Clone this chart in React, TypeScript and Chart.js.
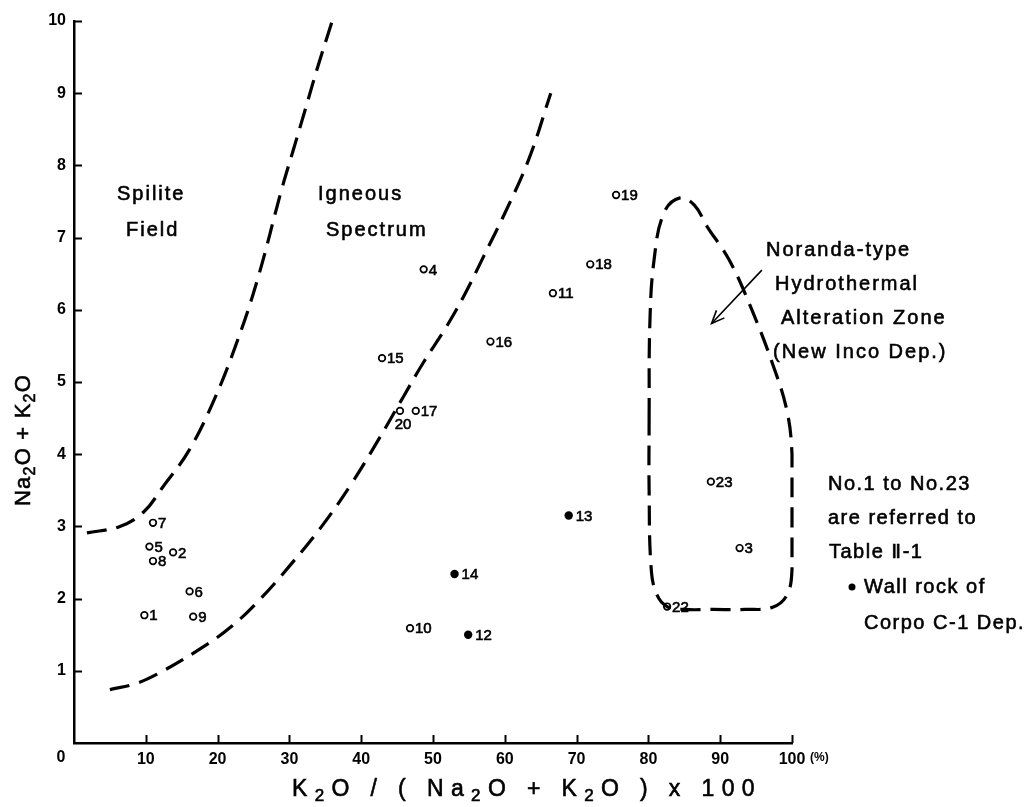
import React, { useEffect, useRef } from 'react';
import { Chart, registerables } from 'chart.js';

Chart.register(...registerables);

const FONT = '"Liberation Sans", "DejaVu Sans", Arial, sans-serif';

// Open-circle samples (No.1 - No.23)
const sampleLabels = ['1', '2', '3', '4', '5', '6', '7', '8', '9', '10', '11', '15', '16', '17', '18', '19', '20', '22', '23'];
const sampleX = [9.8, 13.8, 92.7, 48.7, 10.5, 16.1, 11.0, 11.0, 16.6, 46.8, 66.7, 42.9, 58.0, 47.6, 71.9, 75.5, 45.4, 82.6, 88.7];
const sampleY = [1.77, 2.64, 2.7, 6.56, 2.72, 2.1, 3.05, 2.52, 1.75, 1.59, 6.23, 5.33, 5.56, 4.6, 6.63, 7.59, 4.6, 1.89, 3.62];

// Wall rock of Corpo C-1 Dep. (filled)
const wallLabels = ['12', '13', '14'];
const wallX = [54.9, 68.9, 53.0];
const wallY = [1.5, 3.15, 2.34];

// Spilite field boundary
const spiliteX = [1.8, 6.4, 9.7, 12.4, 16.0, 19.5, 22.5, 25.5, 28.9, 30.5, 32.2, 33.9, 35.9];
const spiliteY = [2.91, 3.0, 3.2, 3.55, 4.05, 4.75, 5.5, 6.4, 7.66, 8.2, 8.77, 9.35, 9.98];

// Igneous spectrum boundary
const igneousX = [5.0, 8.5, 11.5, 17.5, 22.0, 26.0, 30.0, 34.5, 38.7, 42.1, 45.9, 48.6, 51.9, 54.5, 57.0, 60.3, 63.4, 66.4];
const igneousY = [0.74, 0.82, 0.95, 1.3, 1.62, 2.0, 2.45, 3.0, 3.6, 4.15, 4.8, 5.26, 5.77, 6.23, 6.73, 7.4, 8.1, 9.0];

// Noranda-type hydrothermal alteration zone (closed loop)
const norandaX = [80.1, 80.2, 80.8, 82.2, 84.4, 86.4, 88.2, 91.2, 94.2, 97.3, 99.3, 100.0, 100.0, 100.0, 99.3, 97.3, 93.5, 89.0, 85.0, 82.6, 81.2, 80.4, 80.1, 80.1];
const norandaY = [4.5, 5.8, 6.7, 7.35, 7.55, 7.45, 7.15, 6.7, 6.05, 5.25, 4.6, 4.0, 3.2, 2.4, 2.05, 1.88, 1.85, 1.85, 1.85, 1.89, 2.05, 2.4, 3.5, 4.5];

// Arrow pointing into the zone
const arrowX = [95.8, 88.8];
const arrowY = [6.55, 5.81];

const xTickValues = [0, 10, 20, 30, 40, 50, 60, 70, 80, 90, 100];
const xTickLabels = ['0', '10', '20', '30', '40', '50', '60', '70', '80', '90', '100'];
const yTickValues = [0, 1, 2, 3, 4, 5, 6, 7, 8, 9, 10];
const yTickLabels = ['', '1', '2', '3', '4', '5', '6', '7', '8', '9', '10'];

const xUnit = '(%)';
const xTitleParts: [string, boolean][] = [['K', false], ['2', true], ['O / ( Na', false], ['2', true], ['O + K', false], ['2', true], ['O ) x 100', false]];
const yTitleParts: [string, boolean][] = [['Na', false], ['2', true], ['O + K', false], ['2', true], ['O', false]];

const zip = (xs: number[], ys: number[]) => xs.map((x, i) => ({ x, y: ys[i] }));

function setSpacing(ctx: any, s: number) {
  try { ctx.letterSpacing = s + 'px'; } catch (e) { /* ignore */ }
}

function heavyText(ctx: CanvasRenderingContext2D, s: string, x: number, y: number) {
  ctx.fillText(s, x, y);
  ctx.lineWidth = 0.6;
  ctx.strokeText(s, x, y);
}

function richWidth(ctx: CanvasRenderingContext2D, parts: [string, boolean][], size: number, spacing: number) {
  let w = 0;
  for (const [t, sub] of parts) {
    ctx.font = `${sub ? Math.round(size * 0.72) : size}px ${FONT}`;
    setSpacing(ctx, spacing);
    w += ctx.measureText(t).width;
  }
  return w;
}

function drawRich(ctx: CanvasRenderingContext2D, parts: [string, boolean][], cx: number, cy: number, size: number, targetWidth: number) {
  const natural = richWidth(ctx, parts, size, 0);
  const count = parts.reduce((n, p) => n + p[0].length, 0);
  const spacing = Math.max(0, (targetWidth - natural) / count);
  const w = richWidth(ctx, parts, size, spacing);
  let x = cx - w / 2;
  ctx.textAlign = 'left';
  ctx.textBaseline = 'middle';
  for (const [t, sub] of parts) {
    ctx.font = `${sub ? Math.round(size * 0.72) : size}px ${FONT}`;
    setSpacing(ctx, spacing);
    heavyText(ctx, t, x, sub ? cy + size * 0.28 : cy);
    x += ctx.measureText(t).width;
  }
  setSpacing(ctx, 0);
}

function text(ctx: CanvasRenderingContext2D, s: string, x: number, y: number, size = 20, spacing = 2) {
  ctx.font = `${size}px ${FONT}`;
  setSpacing(ctx, spacing);
  ctx.textAlign = 'left';
  ctx.textBaseline = 'middle';
  heavyText(ctx, s, x, y);
  setSpacing(ctx, 0);
}

const annotatePlugin = {
  id: 'annotate',
  afterDraw(chart: any) {
    const ctx: CanvasRenderingContext2D = chart.ctx;
    const xs = chart.scales.x;
    const ys = chart.scales.y;
    const ca = chart.chartArea;
    ctx.save();
    ctx.strokeStyle = '#000';
    ctx.fillStyle = '#000';

    // inward tick marks
    ctx.lineWidth = 2;
    ctx.beginPath();
    yTickValues.forEach((v) => {
      if (v === 0) return;
      const py = Math.round(ys.getPixelForValue(v)) + 0.5;
      ctx.moveTo(ca.left, py);
      ctx.lineTo(ca.left + 8, py);
    });
    xTickValues.forEach((v) => {
      if (v === 0) return;
      const px = Math.round(xs.getPixelForValue(v)) + 0.5;
      ctx.moveTo(px, ca.bottom);
      ctx.lineTo(px, ca.bottom - 8);
    });
    ctx.stroke();

    // origin label and unit
    ctx.font = `bold 16px ${FONT}`;
    ctx.textAlign = 'center';
    ctx.textBaseline = 'middle';
    ctx.fillText(xTickLabels[0], xs.getPixelForValue(0) - 13, ca.bottom + 15);
    ctx.font = `bold 12px ${FONT}`;
    ctx.textAlign = 'left';
    ctx.fillText(xUnit, xs.getPixelForValue(100) + 18, ca.bottom + 15);

    // axis titles
    drawRich(ctx, xTitleParts, 527, 790, 23, 470);
    ctx.save();
    ctx.translate(24, 440);
    ctx.rotate(-Math.PI / 2);
    drawRich(ctx, yTitleParts, 0, 0, 22, 132);
    ctx.restore();

    // sample labels
    ctx.font = `15px ${FONT}`;
    ctx.textBaseline = 'middle';
    sampleLabels.forEach((lab, i) => {
      const px = xs.getPixelForValue(sampleX[i]);
      const py = ys.getPixelForValue(sampleY[i]);
      if (lab === '20') {
        ctx.textAlign = 'center';
        heavyText(ctx, lab, px + 3, py + 14);
      } else {
        ctx.textAlign = 'left';
        heavyText(ctx, lab, px + 5, py + 1);
      }
    });
    wallLabels.forEach((lab, i) => {
      const px = xs.getPixelForValue(wallX[i]);
      const py = ys.getPixelForValue(wallY[i]);
      ctx.textAlign = 'left';
      heavyText(ctx, lab, px + 7, py + 1);
    });

    // arrow head
    const ax0 = xs.getPixelForValue(arrowX[0]);
    const ay0 = ys.getPixelForValue(arrowY[0]);
    const ax1 = xs.getPixelForValue(arrowX[1]);
    const ay1 = ys.getPixelForValue(arrowY[1]);
    const ang = Math.atan2(ay1 - ay0, ax1 - ax0);
    ctx.lineWidth = 1.6;
    ctx.beginPath();
    ctx.moveTo(ax1 - 14 * Math.cos(ang - 0.4), ay1 - 14 * Math.sin(ang - 0.4));
    ctx.lineTo(ax1, ay1);
    ctx.lineTo(ax1 - 14 * Math.cos(ang + 0.4), ay1 - 14 * Math.sin(ang + 0.4));
    ctx.stroke();

    // region texts
    text(ctx, 'Spilite', 117, 194);
    text(ctx, 'Field', 126, 230);
    text(ctx, 'Igneous', 318, 194);
    text(ctx, 'Spectrum', 326, 230);
    text(ctx, 'Noranda-type', 766, 250);
    text(ctx, 'Hydrothermal', 775, 284);
    text(ctx, 'Alteration Zone', 781, 318);
    text(ctx, '(New Inco Dep.)', 773, 352);

    // notes
    text(ctx, 'No.1 to No.23', 828, 484, 20, 1.5);
    text(ctx, 'are referred to', 828, 518, 20, 1.5);
    text(ctx, 'Table Ⅱ-1', 829, 552, 20, 1.5);
    ctx.beginPath();
    ctx.arc(852, 587, 3.5, 0, Math.PI * 2);
    ctx.fill();
    text(ctx, 'Wall rock of', 864, 587, 20, 1.5);
    text(ctx, 'Corpo C-1 Dep.', 864, 623, 20, 1.5);

    ctx.restore();
  },
};

export default function App() {
  const ref = useRef<HTMLCanvasElement | null>(null);
  useEffect(() => {
    document.body.style.margin = '0';
    const dash = {
      showLine: true,
      borderColor: '#000',
      borderWidth: 3.2,
      borderDash: [20, 10],
      pointRadius: 0,
      tension: 0.4,
      fill: false,
      clip: false as any,
    };
    const chart = new Chart(ref.current as HTMLCanvasElement, {
      type: 'scatter',
      data: {
        datasets: [
          { ...dash, label: 'Spilite', data: zip(spiliteX, spiliteY) },
          { ...dash, label: 'Igneous', data: zip(igneousX, igneousY) },
          { ...dash, label: 'Noranda', data: zip(norandaX, norandaY) },
          {
            label: 'arrow',
            data: zip(arrowX, arrowY),
            showLine: true,
            borderColor: '#000',
            borderWidth: 1.6,
            pointRadius: 0,
          },
          {
            label: 'samples',
            data: zip(sampleX, sampleY),
            pointStyle: 'circle',
            pointRadius: 3.3,
            pointBorderWidth: 1.7,
            pointBackgroundColor: '#fff',
            pointBorderColor: '#000',
          },
          {
            label: 'wall rock',
            data: zip(wallX, wallY),
            pointStyle: 'circle',
            pointRadius: 4.2,
            pointBorderWidth: 0,
            pointBackgroundColor: '#000',
            pointBorderColor: '#000',
          },
        ],
      },
      options: {
        responsive: false,
        animation: false,
        devicePixelRatio: 1,
        layout: { padding: { left: 0, right: 239, top: 21, bottom: 0 } },
        plugins: { legend: { display: false }, tooltip: { enabled: false } },
        scales: {
          x: {
            type: 'linear',
            min: 0,
            max: 100,
            afterFit: (s: any) => { s.height = 64; },
            afterBuildTicks: (s: any) => { s.ticks = xTickValues.map((v) => ({ value: v })); },
            grid: { display: false, drawTicks: false },
            border: { display: true, color: '#000', width: 2.5 },
            ticks: {
              color: '#000',
              padding: 7,
              maxRotation: 0,
              autoSkip: false,
              font: { family: FONT, size: 16, weight: 'bold' },
              callback: (_v: any, i: number) => (i === 0 ? '' : xTickLabels[i]),
            },
          },
          y: {
            type: 'linear',
            min: 0,
            max: 10,
            afterFit: (s: any) => { s.width = 74; },
            afterBuildTicks: (s: any) => { s.ticks = yTickValues.map((v) => ({ value: v })); },
            grid: { display: false, drawTicks: false },
            border: { display: true, color: '#000', width: 2.5 },
            ticks: {
              color: '#000',
              padding: 8,
              autoSkip: false,
              font: { family: FONT, size: 16, weight: 'bold' },
              callback: (_v: any, i: number) => yTickLabels[i],
            },
          },
        },
      } as any,
      plugins: [annotatePlugin],
    });
    return () => chart.destroy();
  }, []);
  return (
    <div style={{ width: 1031, height: 807, background: '#fff' }}>
      <canvas ref={ref} width={1031} height={807} style={{ display: 'block' }} />
    </div>
  );
}
